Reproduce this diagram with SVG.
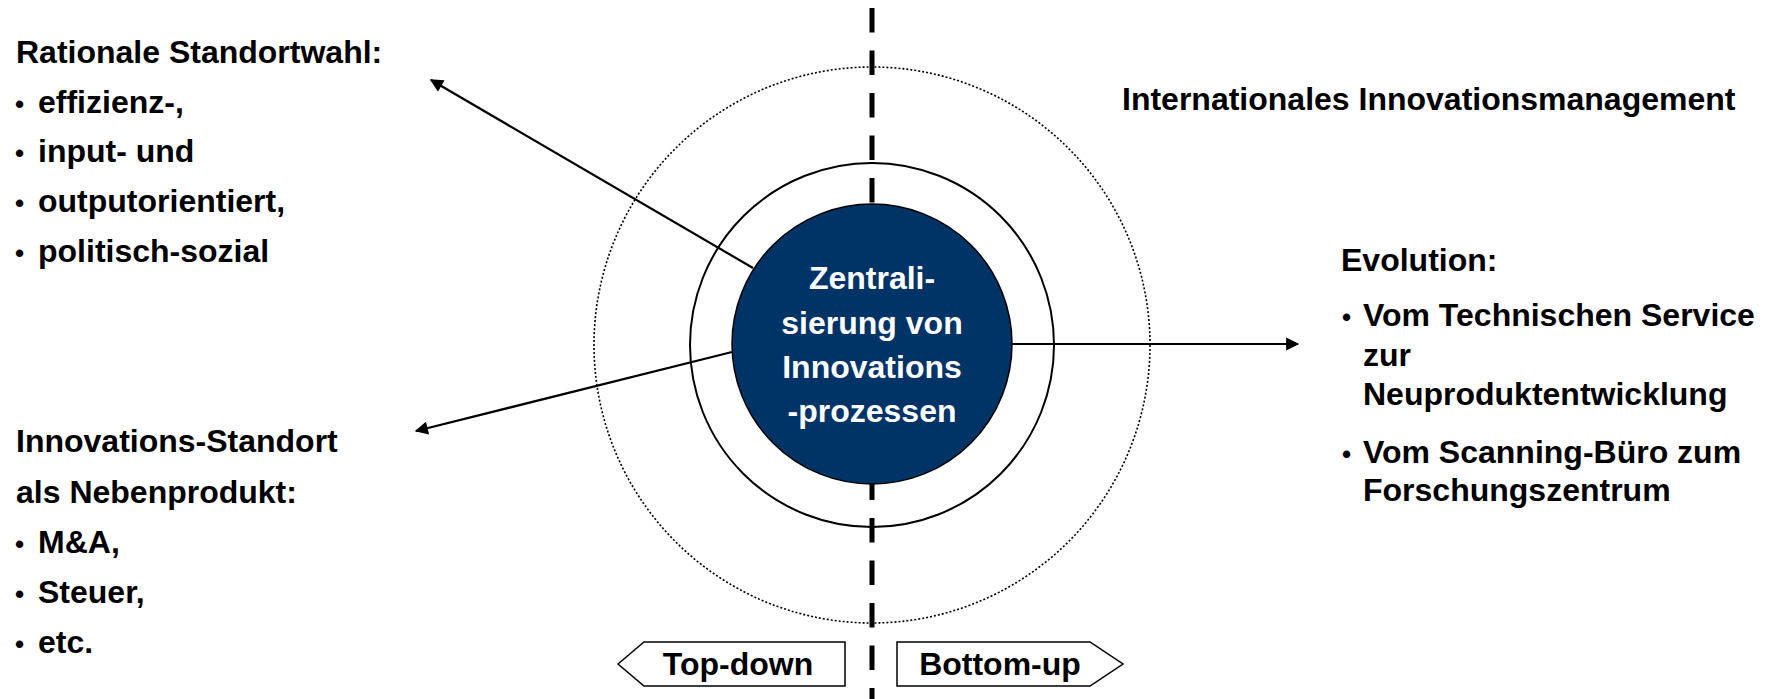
<svg xmlns="http://www.w3.org/2000/svg" width="1769" height="699" viewBox="0 0 1769 699">
<defs>
<style>
.t{font-family:"Liberation Sans",Arial,sans-serif;font-weight:bold;font-size:32px;fill:#000}
.w{font-family:"Liberation Sans",Arial,sans-serif;font-weight:bold;font-size:32px;fill:#fff}
.b{font-size:26px}
.ln{stroke:#000;stroke-width:2.2;fill:none}
</style>
<marker id="ah" viewBox="0 0 10 10" refX="9" refY="5" markerWidth="7" markerHeight="6" markerUnits="strokeWidth" orient="auto">
<path d="M0,0 L10,5 L0,10 Z" fill="#000"/>
</marker>
</defs>
<rect width="1769" height="699" fill="#fff"/>
<g id="rings">
<circle cx="872" cy="345" r="278" fill="none" stroke="#000" stroke-width="1.6" stroke-dasharray="2 2"/>
<circle cx="872" cy="345" r="182" fill="none" stroke="#000" stroke-width="2"/>
</g>
<g id="axis">
<line x1="872" y1="8" x2="872" y2="699" stroke="#000" stroke-width="5" stroke-dasharray="24.5 18"/>
</g>
<g id="connectors">
<line class="ln" x1="753" y1="268" x2="431" y2="80" marker-end="url(#ah)"/>
<line class="ln" x1="732" y1="352" x2="416" y2="431" marker-end="url(#ah)"/>
<line class="ln" x1="1012" y1="344" x2="1298" y2="344" marker-end="url(#ah)"/>
</g>
<g id="center">
<circle cx="872" cy="344" r="140" fill="#003366" stroke="#000" stroke-width="1.5"/>
<text class="w" text-anchor="middle"><tspan x="872" y="289">Zentrali-</tspan><tspan x="872" y="334">sierung von</tspan><tspan x="872" y="378">Innovations</tspan><tspan x="872" y="422">-prozessen</tspan></text>
</g>
<g id="rational">
<text class="t"><tspan x="16" y="63">Rationale Standortwahl:</tspan><tspan class="b" x="15" y="113">•</tspan><tspan x="38" y="113">effizienz-,</tspan><tspan class="b" x="15" y="162">•</tspan><tspan x="38" y="162">input- und</tspan><tspan class="b" x="15" y="212">•</tspan><tspan x="38" y="212">outputorientiert,</tspan><tspan class="b" x="15" y="262">•</tspan><tspan x="38" y="262">politisch-sozial</tspan></text>
</g>
<g id="nebenprodukt">
<text class="t"><tspan x="16" y="452">Innovations-Standort</tspan><tspan x="16" y="503">als Nebenprodukt:</tspan><tspan class="b" x="15" y="553">•</tspan><tspan x="38" y="553">M&amp;A,</tspan><tspan class="b" x="15" y="603">•</tspan><tspan x="38" y="603">Steuer,</tspan><tspan class="b" x="15" y="653">•</tspan><tspan x="38" y="653">etc.</tspan></text>
</g>
<g id="title">
<text class="t" x="1122" y="110">Internationales Innovationsmanagement</text>
</g>
<g id="evolution">
<text class="t"><tspan x="1341" y="271">Evolution:</tspan><tspan class="b" x="1342" y="326">•</tspan><tspan x="1363" y="326">Vom Technischen Service</tspan><tspan x="1363" y="366">zur</tspan><tspan x="1363" y="405">Neuproduktentwicklung</tspan><tspan class="b" x="1342" y="463">•</tspan><tspan x="1363" y="463">Vom Scanning-Büro zum</tspan><tspan x="1363" y="501">Forschungszentrum</tspan></text>
</g>
<g id="topdown">
<path d="M618,664 L644,642 L845,642 L845,686 L644,686 Z" fill="#fff" stroke="#000" stroke-width="1.5"/>
<text class="t" x="738" y="675" text-anchor="middle">Top-down</text>
</g>
<g id="bottomup">
<path d="M897,642 L1090,642 L1123,664 L1090,686 L897,686 Z" fill="#fff" stroke="#000" stroke-width="1.5"/>
<text class="t" x="1000" y="675" text-anchor="middle">Bottom-up</text>
</g>
</svg>
